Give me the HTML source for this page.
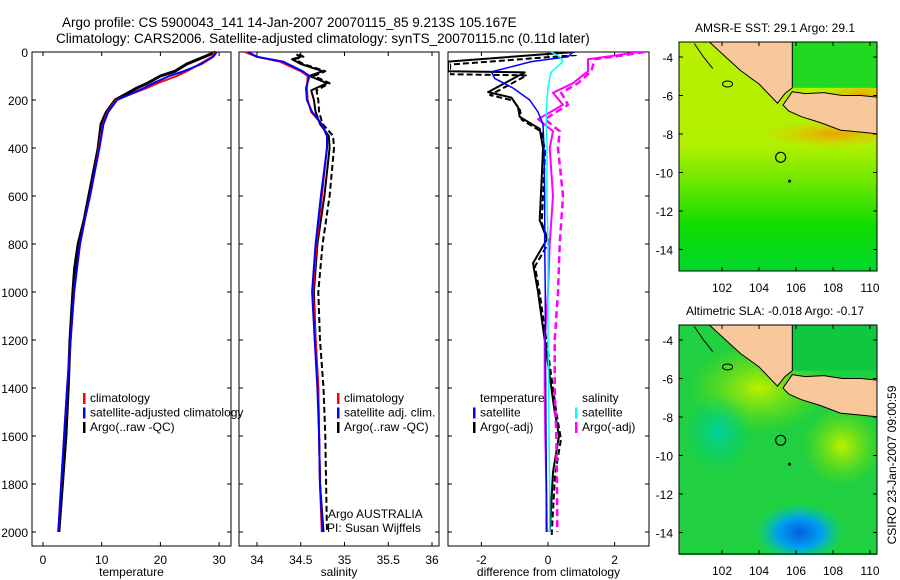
<!DOCTYPE html>
<html><head><meta charset="utf-8"><style>
body{margin:0;background:#fff;}
svg{display:block;font-family:"Liberation Sans",sans-serif;}
text{fill:#000;}
</style></head><body>
<svg id="fig" width="900" height="580" viewBox="0 0 900 580" xmlns="http://www.w3.org/2000/svg">
<defs>
<linearGradient id="sstg" x1="0" y1="0" x2="0" y2="1">
<stop offset="0" stop-color="#b8f000"/><stop offset="0.45" stop-color="#b0f000"/><stop offset="0.6" stop-color="#70e800"/><stop offset="0.8" stop-color="#10dc00"/><stop offset="1" stop-color="#00d830"/></linearGradient>
<radialGradient id="orng" cx="0.5" cy="0.5" r="0.5"><stop offset="0" stop-color="#f0a000"/><stop offset="1" stop-color="#f0c000" stop-opacity="0"/></radialGradient>
<radialGradient id="blu" cx="0.5" cy="0.5" r="0.5"><stop offset="0" stop-color="#0060e0"/><stop offset="0.5" stop-color="#00a0f0"/><stop offset="1" stop-color="#00d0a0" stop-opacity="0"/></radialGradient>
<radialGradient id="cyn" cx="0.5" cy="0.5" r="0.5"><stop offset="0" stop-color="#00d0a0"/><stop offset="1" stop-color="#00d070" stop-opacity="0"/></radialGradient>
<radialGradient id="ylw" cx="0.5" cy="0.5" r="0.5"><stop offset="0" stop-color="#c0f000"/><stop offset="1" stop-color="#80e000" stop-opacity="0"/></radialGradient>
<clipPath id="m1c"><rect x="679" y="42" width="198" height="229"/></clipPath>
<clipPath id="m2c"><rect x="679" y="325" width="198" height="230"/></clipPath>
</defs>
<g id="layer"></g>
</svg>
<script>
// ---- data ----
const tempDepth = [0,20,50,80,100,130,150,200,250,300,400,500,600,700,800,900,1000,1200,1400,1600,1800,2000];
const tempClim  = [29.2,28.8,26.7,24.5,22.8,19.5,17.7,12.4,11.0,10.2,9.5,8.8,8.0,7.1,6.3,5.8,5.3,4.7,4.1,3.6,3.1,2.6];
const tempSat   = [29.6,29.0,27.0,24.0,21.5,18.8,17.2,12.6,11.1,10.3,9.6,8.8,8.0,7.1,6.3,5.8,5.3,4.7,4.1,3.6,3.1,2.6];
const tempArgo  = [29.4,27.5,24.5,22.5,20.0,17.8,16.0,12.3,10.8,9.9,9.4,8.6,7.8,7.0,6.0,5.4,5.1,4.6,4.3,3.9,3.3,2.7];
const salDepth = [0,20,40,80,100,150,200,250,300,350,400,600,800,1000,1400,1600,1800,2000];
const salClim  = [33.86,34.0,34.26,34.5,34.58,34.57,34.58,34.62,34.74,34.8,34.8,34.74,34.68,34.64,34.7,34.71,34.72,34.74];
const salSat   = [33.9,34.0,34.3,34.52,34.6,34.56,34.57,34.63,34.74,34.8,34.8,34.73,34.67,34.63,34.69,34.71,34.72,34.75];
const argoSalDepth = [10,20,30,50,80,100,130,160,200,250,300,350,400,600,700,800,1000,1200,1400,1600,1800,2000];
const argoSal      = [34.45,34.5,34.4,34.5,34.75,34.6,34.8,34.62,34.65,34.67,34.72,34.82,34.83,34.77,34.73,34.69,34.65,34.67,34.7,34.71,34.72,34.76];
const argoSalQC    = [34.48,34.53,34.43,34.53,34.78,34.65,34.83,34.68,34.7,34.71,34.75,34.87,34.88,34.83,34.79,34.75,34.7,34.72,34.76,34.78,34.79,34.8];
const diffDepth = [0,20,40,83,110,150,200,250,300,400,600,800,1000,1200,1400,1600,1800,2000];
const diffTSat  = [0.75,0.6,-0.5,-1.7,-1.6,-1.05,-0.55,-0.3,-0.15,-0.12,-0.1,-0.1,-0.08,-0.08,-0.07,-0.06,-0.05,-0.05];
const diffSSat  = [0.1,0.35,0.45,0.1,0.05,0.0,-0.03,-0.05,-0.05,-0.03,-0.03,0.0,0.0,0.0,0.02,0.03,0.05,0.05];
const argoTDepth = [0,40,80,85,167,190,230,270,320,400,500,700,780,880,1000,1200,1500,1600,1750,2000];
const argoTDiff  = [0.8,-3,-3,-0.7,-1.8,-1.1,-0.9,-0.85,-0.25,-0.15,-0.18,-0.25,-0.03,-0.45,-0.3,-0.1,0.2,0.33,0.15,0.05];
const argoSDepth = [0,15,30,80,130,170,220,280,330,400,600,800,1000,1200,1400,1600,1800,2000];
const argoSDiff  = [2.7,2.0,1.2,1.2,0.75,0.15,0.45,-0.3,0.15,0.05,0.15,0.05,0.0,-0.1,-0.1,-0.08,-0.05,-0.03];
const argoSDiffQC= [2.9,2.2,1.4,1.3,0.9,0.4,0.6,-0.1,0.35,0.3,0.45,0.35,0.3,0.2,0.2,0.25,0.27,0.28];
const depthTicks = [0,200,400,600,800,1000,1200,1400,1600,1800,2000];
const tempTicks = [0,10,20,30];
const salTicks = [34,34.5,35,35.5,36];
const diffTicks = [-2,0,2];
const lonTicks = [102,104,106,108,110];
const latTicks = [-4,-6,-8,-10,-12,-14];

const NS='http://www.w3.org/2000/svg';
const L=document.getElementById('layer');
function mk(tag,attrs,parent){const e=document.createElementNS(NS,tag);for(const k in attrs)e.setAttribute(k,attrs[k]);(parent||L).appendChild(e);return e;}
function txt(s,x,y,anchor,size,parent){const t=mk('text',{x:x,y:y,'text-anchor':anchor||'start','font-size':size||12},parent);t.textContent=s;return t;}

const TOP=52, BOT=546;
const yD=d=>52+d*0.24;
const P=[
 {x0:32,x1:231,sx:v=>43+v*5.87,ticks:tempTicks,label:'temperature',name:'temperature-panel'},
 {x0:239,x1:439,sx:v=>257+(v-34)*87.5,ticks:salTicks,label:'salinity',name:'salinity-panel'},
 {x0:448,x1:649,sx:v=>548+v*33.3,ticks:diffTicks,label:'difference from climatology',name:'difference-panel'}
];
P.forEach((p,i)=>{
  const g=mk('g',{});
  
  
  p.g=g;
  mk('rect',{x:p.x0,y:TOP,width:p.x1-p.x0,height:BOT-TOP,fill:'none',stroke:'#000','stroke-width':1},g);
  p.ticks.forEach(t=>{const x=p.sx(t);
    mk('line',{x1:x,x2:x,y1:BOT,y2:BOT-4,stroke:'#000'},g);
    mk('line',{x1:x,x2:x,y1:TOP,y2:TOP+4,stroke:'#000'},g);
    const tl=txt(String(t),x,564,'middle',12,g);
    
    
  });
  depthTicks.forEach(d=>{const y=yD(d);
    mk('line',{x1:p.x1,x2:p.x1-4,y1:y,y2:y,stroke:'#000'},g);
    mk('line',{x1:p.x0,x2:p.x0+4,y1:y,y2:y,stroke:'#000'},g);
    if(i===0){const tl=txt(String(d),28,y+5,'end',12,g);
      
      }
  });
  const xl=txt(p.label,(p.x0+p.x1)/2,576,'middle',12,g);
  
  
});
function line(p,depths,vals,color,w,dash,name){
  const pts=depths.map((d,k)=>p.sx(vals[k]).toFixed(1)+','+yD(d).toFixed(1)).join(' ');
  const el=mk('polyline',{points:pts,fill:'none',stroke:color,'stroke-width':w,'stroke-dasharray':dash||'none','stroke-linejoin':'round'},p.g);
  
  
  return el;
}
const clipP=(p)=>{const c=mk('clipPath',{id:'c'+p.name},p.g);mk('rect',{x:p.x0,y:TOP,width:p.x1-p.x0,height:BOT-TOP},c);return 'url(#c'+p.name+')';};
// panel 1
line(P[0],tempDepth,tempArgo,'#000',3,'','temperature-argo-line');
line(P[0],tempDepth,tempClim,'#ff0000',2,'','temperature-climatology-line');
line(P[0],tempDepth,tempSat,'#0000ff',2,'','temperature-satellite-line');
// panel 2
line(P[1],argoSalDepth,argoSalQC,'#000',2,'6,3','salinity-argo-qc-line');
line(P[1],argoSalDepth,argoSal,'#000',2,'','salinity-argo-line');
line(P[1],salDepth,salClim,'#ff0000',2,'','salinity-climatology-line');
line(P[1],salDepth,salSat,'#0000ff',2,'','salinity-satellite-line');
// panel 3
const cp=clipP(P[2]);
line(P[2],argoTDepth,argoTDiff,'#000',2,'','temp-diff-argo-line').setAttribute('clip-path',cp);
const dl=line(P[2],argoTDepth,argoTDiff,'#000',2,'6,3','temp-diff-argo-adj-line');
dl.setAttribute('transform','translate(2,3)');
dl.setAttribute('clip-path',cp);
line(P[2],argoSDepth,argoSDiffQC,'#ff00ff',2.5,'7,4','sal-diff-argo-adj-line').setAttribute('clip-path',cp);
line(P[2],argoSDepth,argoSDiff,'#ff00ff',2,'','sal-diff-argo-line').setAttribute('clip-path',cp);
line(P[2],diffDepth,diffTSat,'#0000ff',1.5,'','temp-diff-satellite-line');
line(P[2],diffDepth,diffSSat,'#00ffff',1.5,'','sal-diff-satellite-line');

// legends
function leg(items,x,y,g){items.forEach((it,k)=>{const yy=y+k*14.5;
  const e=mk('g',{},g);
  
  
  if(it[1])mk('rect',{x:x,y:yy-9,width:2.5,height:11,fill:it[1]},e);
  txt(it[0],x+7,yy,'start',12,e);});}
leg([['climatology','#ff0000'],['satellite-adjusted climatology','#0000ff'],['Argo(..raw -QC)','#000']],83,402,P[0].g);
leg([['climatology','#ff0000'],['satellite adj. clim.','#0000ff'],['Argo(..raw -QC)','#000']],337,402,P[1].g);
leg([['temperature',null],['satellite','#0000ff'],['Argo(-adj)','#000']],473,402,P[2].g);
leg([['salinity',null],['satellite','#00ffff'],['Argo(-adj)','#ff00ff']],575,402,P[2].g);
const a1=txt('Argo AUSTRALIA',328,518,'start',12);
const a2=txt('PI: Susan Wijffels',327,532,'start',12);

// titles
const t1=txt('Argo profile: CS 5900043_141 14-Jan-2007 20070115_85 9.213S 105.167E',62,27,'start',13.5);

const t2=txt('Climatology: CARS2006. Satellite-adjusted climatology: synTS_20070115.nc (0.11d later)',56,43,'start',13.5);


// maps
const lonX=lon=>722+(lon-102)*18.5;
function drawMap(y0,lat4,title,kind,name){
  const g=mk('g',{});
  
  
  const latY=lat=>lat4+(-4-lat)*19.25;
  const cg=mk('g',{'clip-path':kind==='sst'?'url(#m1c)':'url(#m2c)'},g);
  if(kind==='sst'){
    mk('rect',{x:679,y:y0,width:198,height:230,fill:'url(#sstg)'},cg);
    mk('ellipse',{cx:lonX(108),cy:latY(-8),rx:70,ry:14,fill:'url(#orng)'},cg);
    mk('ellipse',{cx:lonX(109.5),cy:latY(-6),rx:40,ry:14,fill:'url(#orng)'},cg);
    mk('rect',{x:lonX(105.8),y:y0,width:120,height:latY(-5.6)-y0,fill:'#20d820'},cg);
  } else {
    mk('rect',{x:679,y:y0,width:198,height:230,fill:'#20d040'},cg);
    mk('ellipse',{cx:lonX(104),cy:latY(-6.5),rx:70,ry:45,fill:'url(#ylw)'},cg);
    mk('ellipse',{cx:lonX(108.5),cy:latY(-9.5),rx:40,ry:40,fill:'url(#ylw)'},cg);
    mk('ellipse',{cx:lonX(101.8),cy:latY(-8.8),rx:35,ry:40,fill:'url(#cyn)'},cg);
    mk('ellipse',{cx:lonX(106.2),cy:latY(-14),rx:45,ry:30,fill:'url(#blu)'},cg);
    mk('rect',{x:lonX(105.8),y:y0,width:120,height:latY(-5.6)-y0,fill:'#10c840'},cg);
  }
  const sum=[[101.3,-3.2],[102.2,-4.0],[103,-4.7],[104,-5.4],[104.6,-6.0],[105,-6.4],[105.4,-5.9],[105.8,-5.6],[105.8,-3.2]];
  const java=[[105.8,-5.8],[106.5,-5.9],[107.5,-5.85],[108.5,-6.0],[109.5,-6.0],[110.5,-6.1],[110.5,-8.0],[109.5,-7.9],[108.4,-7.8],[107.3,-7.4],[106.3,-7.1],[105.6,-6.8],[105.3,-6.5]];
  [sum,java].forEach((poly,k)=>{
    const pp=mk('polygon',{points:poly.map(q=>lonX(q[0]).toFixed(1)+','+latY(q[1]).toFixed(1)).join(' '),fill:'#f9c89a',stroke:'#000','stroke-width':1},cg);
    
    
  });
  mk('ellipse',{cx:lonX(102.3),cy:latY(-5.4),rx:5,ry:3,fill:'none',stroke:'#000'},cg);
  mk('polyline',{points:[[100.5,-3.3],[101,-4],[101.5,-4.6]].map(q=>lonX(q[0])+','+latY(q[1])).join(' '),fill:'none',stroke:'#000'},cg);
  const m=mk('circle',{cx:lonX(105.17),cy:latY(-9.21),r:5,fill:'none',stroke:'#000','stroke-width':1.2},g);
  
  
  mk('circle',{cx:lonX(105.65),cy:latY(-10.45),r:1.5,fill:'#000'},g);
  mk('rect',{x:679,y:y0,width:198,height:229,fill:'none',stroke:'#000'},g);
  lonTicks.forEach(l=>{const x=lonX(l);
    mk('line',{x1:x,x2:x,y1:y0+229,y2:y0+225,stroke:'#000'},g);
    mk('line',{x1:x,x2:x,y1:y0,y2:y0+4,stroke:'#000'},g);
    const tl=txt(String(l),x,y0+250,'middle',12,g);});
  latTicks.forEach(l=>{const y=latY(l);
    mk('line',{x1:679,x2:683,y1:y,y2:y,stroke:'#000'},g);
    mk('line',{x1:877,x2:873,y1:y,y2:y,stroke:'#000'},g);
    const tl=txt(String(l),673,y+5,'end',12,g);});
  const tt=txt(title,775,y0-10,'middle',12,g);
  
}
drawMap(42,57,'AMSR-E SST: 29.1 Argo: 29.1','sst','sst-map');
drawMap(325,340,'Altimetric SLA: -0.018 Argo: -0.17','sla','sla-map');
const cs=txt('CSIRO 23-Jan-2007 09:00:59',0,0,'middle',12);
cs.setAttribute('transform','translate(896,465) rotate(-90)');

</script>
</body></html>
